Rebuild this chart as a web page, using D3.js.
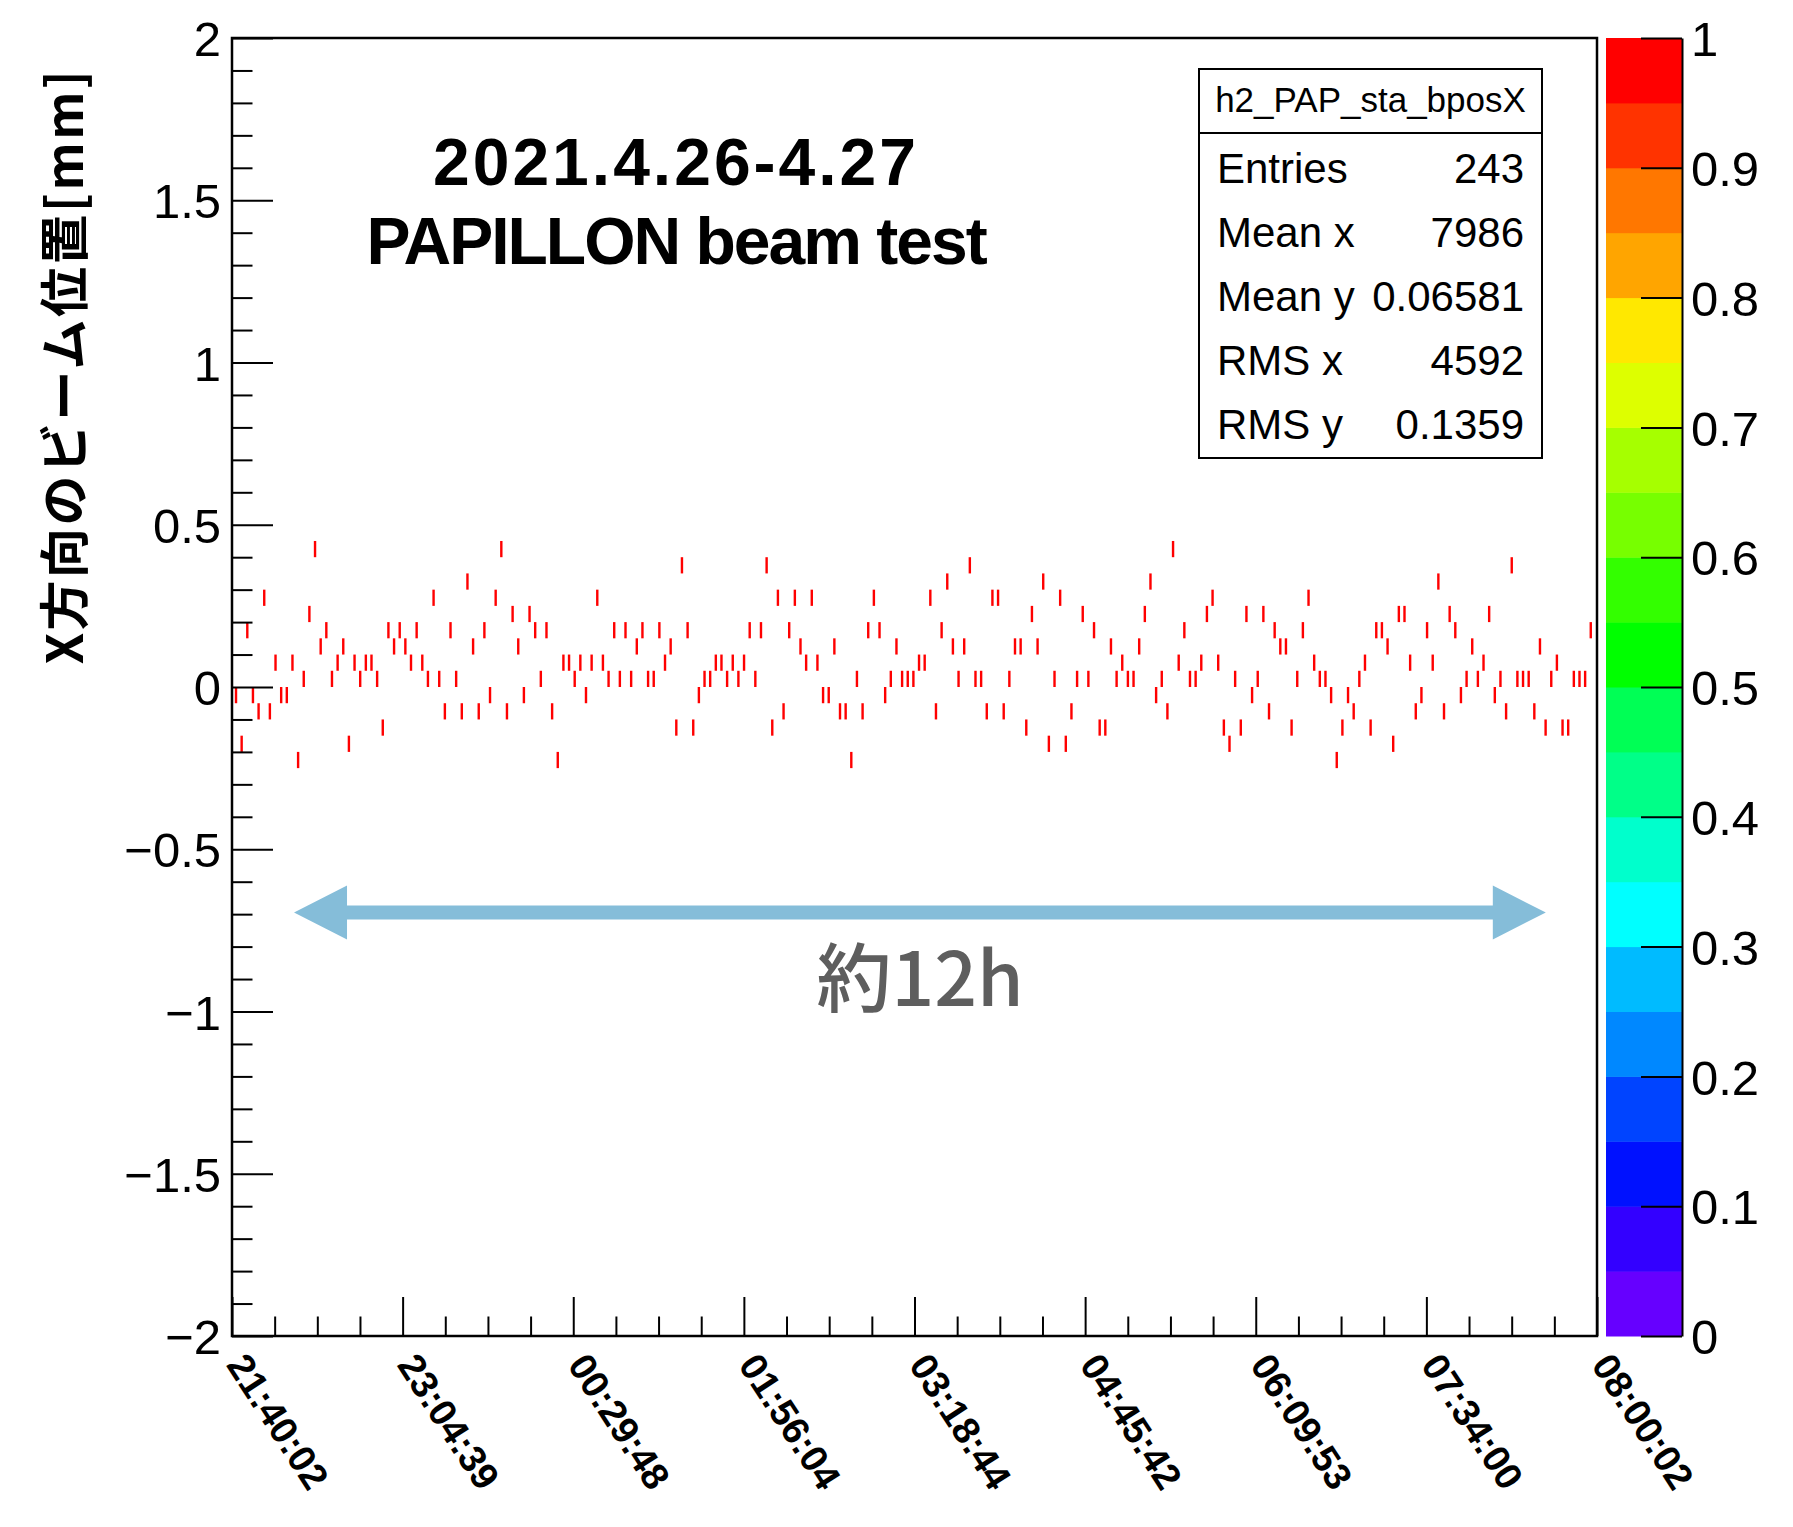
<!DOCTYPE html>
<html>
<head>
<meta charset="utf-8">
<script src="https://cdn.jsdelivr.net/npm/d3@7"></script>
<style>
    body { margin: 0; background: #ffffff; }
    svg { display: block; }
</style>
</head>
<body>
<div class="plot"></div>
<script>
// beam X position for each spill, bin centre in mm (histogram bins are 0.05 mm)
var beamPosX = [
    -0.025, -0.175, 0.175, -0.025, -0.075, 0.275, -0.075, 0.075, -0.025, -0.025,
    0.075, -0.225, 0.025, 0.225, 0.425, 0.125, 0.175, 0.025, 0.075, 0.125,
    -0.175, 0.075, 0.025, 0.075, 0.075, 0.025, -0.125, 0.175, 0.125, 0.175,
    0.125, 0.075, 0.175, 0.075, 0.025, 0.275, 0.025, -0.075, 0.175, 0.025,
    -0.075, 0.325, 0.125, -0.075, 0.175, -0.025, 0.275, 0.425, -0.075, 0.225,
    0.125, -0.025, 0.225, 0.175, 0.025, 0.175, -0.075, -0.225, 0.075, 0.075,
    0.025, 0.075, -0.025, 0.075, 0.275,

    0.075, 0.025, 0.175, 0.025, 0.175, 0.025, 0.125, 0.175, 0.025, 0.025,
    0.175, 0.075, 0.125, -0.125, 0.375, 0.175, -0.125, -0.025, 0.025, 0.025,
    0.075, 0.075, 0.025, 0.075, 0.025, 0.075, 0.175, 0.025, 0.175, 0.375,
    -0.125, 0.275, -0.075, 0.175, 0.275, 0.125, 0.075, 0.275, 0.075, -0.025,
    -0.025, 0.125, -0.075, -0.075, -0.225, 0.025, -0.075, 0.175, 0.275, 0.175,
    -0.025, 0.025, 0.125, 0.025, 0.025, 0.025, 0.075, 0.075, 0.275, -0.075,
    0.175, 0.325, 0.125, 0.025, 0.125, 0.375, 0.025,

    0.025, -0.075, 0.275, 0.275, -0.075, 0.025, 0.125, 0.125, -0.125, 0.225,
    0.125, 0.325, -0.175, 0.025, 0.275, -0.175, -0.075, 0.025, 0.225, 0.025,
    0.175, -0.125, -0.125, 0.125, 0.025, 0.075, 0.025, 0.025, 0.125, 0.225,
    0.325, -0.025, 0.025, -0.075, 0.425, 0.075, 0.175, 0.025, 0.025, 0.075,
    0.225, 0.275, 0.075, -0.125, -0.175, 0.025, -0.125, 0.225, -0.025, 0.025,
    0.225, -0.075, 0.175, 0.125, 0.125, -0.125, 0.025, 0.175, 0.275, 0.075,
    0.025, 0.025, -0.025, -0.225, -0.125, -0.025, -0.075, 0.025, 0.075, -0.125,
    0.175,

    0.175, 0.125, -0.175, 0.225, 0.225, 0.075, -0.075, -0.025, 0.175, 0.075,
    0.325, -0.075, 0.225, 0.175, -0.025, 0.025, 0.125, 0.025, 0.075, 0.225,
    -0.025, 0.025, -0.075, 0.375, 0.025, 0.025, 0.025, -0.075, 0.125, -0.125,
    0.025, 0.075, -0.125, -0.125, 0.025, 0.025, 0.025, 0.175
];

// first and last spill on the x axis (axis units)
var firstSpillX = 47;
var lastSpillX = 15927;
var binHeight = 0.05;

var xTickValues = [0, 2000, 4000, 6000, 8000, 10000, 12000, 14000, 16000];
var timeLabels = ["21:40:02", "23:04:39", "00:29:48", "01:56:04", "03:18:44",
                  "04:45:42", "06:09:53", "07:34:00", "08:00:02"];
var yTickValues = [-2, -1.5, -1, -0.5, 0, 0.5, 1, 1.5, 2];
var zTickValues = [0, 0.1, 0.2, 0.3, 0.4, 0.5, 0.6, 0.7, 0.8, 0.9, 1];

// colour palette, bottom to top
var palette = ["#6600ff", "#3300ff", "#0011ff", "#0044ff", "#0088ff",
               "#00bbff", "#00ffff", "#00ffcc", "#00ff88", "#00ff55",
               "#00ff00", "#33ff00", "#77ff00", "#a6ff00", "#ddff00",
               "#ffe800", "#ffa500", "#ff7700", "#ff3300", "#ff0000"];

var histName = "h2_PAP_sta_bposX";
var statNames = ["Entries", "Mean x", "Mean y", "RMS x", "RMS y"];
var statValues = ["243", "7986", "0.06581", "4592", "0.1359"];

var titleLines = ["2021.4.26-4.27", "PAPILLON beam test"];
var yTitle = "X方向のビーム位置[mm]";
var spanLabel = "約12h";
// ends of the double arrow, x axis units
var spanRange = [727, 15400];

var Plot = {
    width: 1793,
    height: 1527,
    left: 232,
    right: 1597,
    top: 38,
    bottom: 1336,
    paletteLeft: 1606,
    paletteRight: 1682,
    xMajorTick: 39,
    yMajorTick: 41,
    markWidth: 2.4,
    yTitleCentre: 366,
    font: "'Liberation Sans', Arial, sans-serif",
    jpFont: "'Noto Sans CJK JP', 'Liberation Sans', sans-serif",
    canvas: '',
    x: null,
    y: null,
    z: null,
    spill: null,
    init: function () {
        this.defineCanvas()
            .buildScales()
            .drawMarks()
            .drawFrame()
            .drawXAxis()
            .drawYAxis()
            .drawPalette()
            .drawStats()
            .drawTitle()
            .drawSpan();
    },
    defineCanvas: function () {
        this.canvas = d3.select(".plot")
                        .append("svg")
                        .attr("width", this.width)
                        .attr("height", this.height);

        this.canvas.append("rect")
            .attr("width", this.width)
            .attr("height", this.height)
            .attr("fill", "#ffffff");

        return this;
    },
    buildScales: function () {
        this.x = d3.scaleLinear().domain([0, 16000]).range([this.left, this.right]);
        this.y = d3.scaleLinear().domain([-2, 2]).range([this.bottom, this.top]);
        this.z = d3.scaleLinear().domain([0, 1]).range([this.bottom, this.top]);
        this.spill = d3.scaleLinear()
                       .domain([0, beamPosX.length - 1])
                       .range([firstSpillX, lastSpillX]);
        this.color = d3.scaleQuantize().domain([0, 1]).range(palette);

        return this;
    },
    drawMarks: function () {
        var self = this;

        this.canvas.append("clipPath")
            .attr("id", "frame-clip")
            .append("rect")
            .attr("x", this.left)
            .attr("y", this.top)
            .attr("width", this.right - this.left)
            .attr("height", this.bottom - this.top);

        // one filled bin per spill, content 1 -> top of the palette
        this.canvas.append("g")
            .attr("clip-path", "url(#frame-clip)")
            .selectAll("rect")
            .data(beamPosX)
            .enter()
            .append("rect")
            .attr("x", function (d, i) {
                return self.x(self.spill(i)) - self.markWidth / 2;
            })
            .attr("y", function (d) {
                return self.y(d + binHeight / 2);
            })
            .attr("width", this.markWidth)
            .attr("height", function (d) {
                return self.y(d - binHeight / 2) - self.y(d + binHeight / 2);
            })
            .attr("fill", this.color(1));

        return this;
    },
    drawFrame: function () {
        this.canvas.append("rect")
            .attr("x", this.left)
            .attr("y", this.top)
            .attr("width", this.right - this.left)
            .attr("height", this.bottom - this.top)
            .attr("fill", "none")
            .attr("stroke", "#000")
            .attr("stroke-width", 2.5);

        return this;
    },
    styleAxis: function (g) {
        g.select(".domain").remove();
        g.selectAll(".tick line").attr("stroke", "#000").attr("stroke-width", 2);
    },
    drawXAxis: function () {
        var minor = d3.range(0, 16001, 500).filter(function (v) { return v % 2000 !== 0; });

        this.canvas.append("g")
            .attr("transform", "translate(0," + this.bottom + ")")
            .call(d3.axisBottom(this.x)
                    .tickValues(minor)
                    .tickFormat("")
                    .tickSizeInner(-this.xMajorTick / 2)
                    .tickSizeOuter(0))
            .call(this.styleAxis);

        var major = this.canvas.append("g")
            .attr("transform", "translate(0," + this.bottom + ")")
            .call(d3.axisBottom(this.x)
                    .tickValues(xTickValues)
                    .tickFormat(function (d, i) { return timeLabels[i]; })
                    .tickSizeInner(-this.xMajorTick)
                    .tickSizeOuter(0))
            .call(this.styleAxis);

        major.selectAll(".tick text")
            .attr("x", 0)
            .attr("y", 0)
            .attr("dy", "0")
            .attr("transform", "translate(-7,29) rotate(57)")
            .style("text-anchor", "start")
            .style("font-family", this.font)
            .style("font-weight", "bold")
            .style("font-size", "38px")
            .attr("fill", "#000");

        return this;
    },
    drawYAxis: function () {
        var minor = d3.range(-20, 21).filter(function (v) { return v % 5 !== 0; })
                      .map(function (v) { return v / 10; });

        this.canvas.append("g")
            .attr("transform", "translate(" + this.left + ",0)")
            .call(d3.axisLeft(this.y)
                    .tickValues(minor)
                    .tickFormat("")
                    .tickSizeInner(-this.yMajorTick / 2)
                    .tickSizeOuter(0))
            .call(this.styleAxis);

        var major = this.canvas.append("g")
            .attr("transform", "translate(" + this.left + ",0)")
            .call(d3.axisLeft(this.y)
                    .tickValues(yTickValues)
                    .tickFormat(d3.format("~g"))
                    .tickSizeInner(-this.yMajorTick)
                    .tickSizeOuter(0)
                    .tickPadding(11))
            .call(this.styleAxis);

        major.selectAll(".tick text")
            .style("font-family", this.font)
            .style("font-size", "49px")
            .attr("dy", "0.36em")
            .attr("fill", "#000");

        this.canvas.append("text")
            .attr("transform", "translate(83," + this.yTitleCentre + ") rotate(-90)")
            .attr("text-anchor", "middle")
            .style("font-family", this.jpFont)
            .style("font-weight", "bold")
            .style("font-size", "50px")
            .style("letter-spacing", "2.5px")
            .attr("fill", "#000")
            .text(yTitle);

        return this;
    },
    drawPalette: function () {
        var self = this;
        var step = 1 / palette.length;

        this.canvas.append("g")
            .selectAll("rect")
            .data(palette)
            .enter()
            .append("rect")
            .attr("x", this.paletteLeft)
            .attr("y", function (d, i) { return self.z((i + 1) * step); })
            .attr("width", this.paletteRight - this.paletteLeft)
            .attr("height", function (d, i) { return self.z(i * step) - self.z((i + 1) * step) + 0.5; })
            .attr("fill", function (d) { return d; });

        var axis = this.canvas.append("g")
            .attr("transform", "translate(" + this.paletteRight + ",0)")
            .call(d3.axisRight(this.z)
                    .tickValues(zTickValues)
                    .tickFormat(d3.format("~g"))
                    .tickSizeInner(-this.yMajorTick)
                    .tickSizeOuter(0)
                    .tickPadding(9));

        axis.select(".domain").attr("stroke", "#000").attr("stroke-width", 2);
        axis.selectAll(".tick line").attr("stroke", "#000").attr("stroke-width", 2);
        axis.selectAll(".tick text")
            .style("font-family", this.font)
            .style("font-size", "49px")
            .attr("dy", "0.36em")
            .attr("fill", "#000");

        return this;
    },
    drawStats: function () {
        var box = { x: 1199, y: 69, w: 343, h: 389, header: 64 };
        var g = this.canvas.append("g");

        g.append("rect")
            .attr("x", box.x)
            .attr("y", box.y)
            .attr("width", box.w)
            .attr("height", box.h)
            .attr("fill", "#fff")
            .attr("stroke", "#000")
            .attr("stroke-width", 2);

        g.append("line")
            .attr("x1", box.x)
            .attr("x2", box.x + box.w)
            .attr("y1", box.y + box.header)
            .attr("y2", box.y + box.header)
            .attr("stroke", "#000")
            .attr("stroke-width", 2);

        g.append("text")
            .attr("x", box.x + box.w / 2)
            .attr("y", box.y + 43)
            .attr("text-anchor", "middle")
            .style("font-family", this.font)
            .style("font-size", "35px")
            .text(histName);

        g.selectAll("text.stat-name")
            .data(statNames)
            .enter()
            .append("text")
            .attr("class", "stat-name")
            .attr("x", box.x + 18)
            .attr("y", function (d, i) { return 183 + i * 64; })
            .style("font-family", this.font)
            .style("font-size", "42px")
            .text(function (d) { return d; });

        g.selectAll("text.stat-value")
            .data(statValues)
            .enter()
            .append("text")
            .attr("class", "stat-value")
            .attr("x", box.x + box.w - 18)
            .attr("y", function (d, i) { return 183 + i * 64; })
            .attr("text-anchor", "end")
            .style("font-family", this.font)
            .style("font-size", "42px")
            .text(function (d) { return d; });

        return this;
    },
    drawTitle: function () {
        var spacing = ["3px", "-2px"];
        var baselines = [185, 264];

        this.canvas.selectAll("text.title")
            .data(titleLines)
            .enter()
            .append("text")
            .attr("class", "title")
            .attr("x", 676)
            .attr("y", function (d, i) { return baselines[i]; })
            .attr("text-anchor", "middle")
            .style("font-family", this.font)
            .style("font-weight", "bold")
            .style("font-size", "66px")
            .style("letter-spacing", function (d, i) { return spacing[i]; })
            .attr("fill", "#000")
            .text(function (d) { return d; });

        return this;
    },
    drawSpan: function () {
        var x0 = this.x(spanRange[0]);
        var x1 = this.x(spanRange[1]);
        var yc = 912.5;
        var head = 53, half = 27, shaft = 7;

        var pts = [
            [x0, yc], [x0 + head, yc - half], [x0 + head, yc - shaft],
            [x1 - head, yc - shaft], [x1 - head, yc - half], [x1, yc],
            [x1 - head, yc + half], [x1 - head, yc + shaft],
            [x0 + head, yc + shaft], [x0 + head, yc + half]
        ];

        this.canvas.append("path")
            .attr("d", d3.line()(pts) + "Z")
            .attr("fill", "#85bdd9");

        this.canvas.append("text")
            .attr("x", (x0 + x1) / 2)
            .attr("y", 1006)
            .attr("text-anchor", "middle")
            .style("font-family", this.jpFont)
            .style("font-weight", 500)
            .style("font-size", "75px")
            .attr("fill", "#5e5e5e")
            .text(spanLabel);

        return this;
    }
};

Plot.init();
</script>
</body>
</html>
